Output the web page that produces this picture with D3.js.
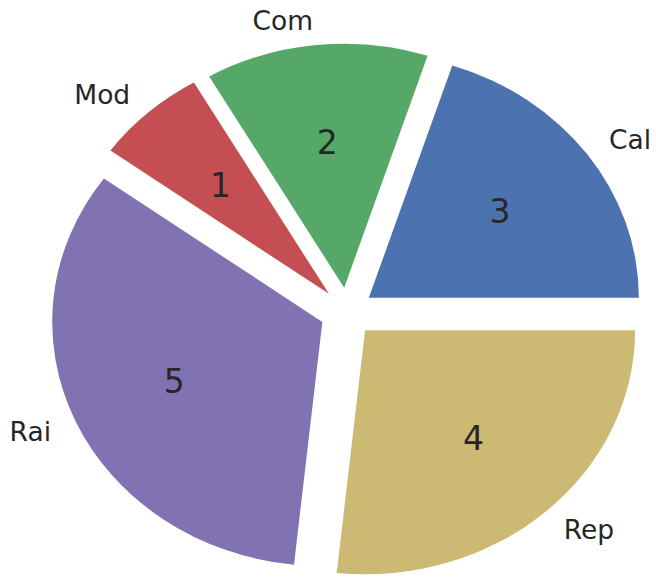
<!DOCTYPE html>
<html><head><meta charset="utf-8">
<script src="https://cdn.jsdelivr.net/npm/d3@7"></script>
<style>html,body{margin:0;padding:0;background:#fff;}svg{display:block;}</style>
</head><body>
<script>
const categories = ["Cal", "Com", "Mod", "Rai", "Rep"];
const values = [3, 2, 1, 5, 4];
const colors = ["#4C72B0", "#55A868", "#C44E52", "#8172B2", "#CCB974"];
const explode = [0.1, 0.1, 0.1, 0.1, 0.1];

const W = 656, H = 578;
const svg = d3.select("body").append("svg").attr("width", W).attr("height", H);

// data-space scales (unit pie, elliptical due to non-equal aspect)
const x = d3.scaleLinear().domain([-1, 1]).range([347 - 270, 347 + 270]);
const y = d3.scaleLinear().domain([-1, 1]).range([312 + 244, 312 - 244]);

const data = categories.map((c, i) => ({c, v: values[i], color: colors[i], ex: explode[i]}));
const pie = d3.pie().value(d => d.v).sort(null)
  .startAngle(Math.PI / 2).endAngle(Math.PI / 2 - 2 * Math.PI);
const arcs = pie(data);
const arc = d3.arc().innerRadius(0).outerRadius(1);

arcs.forEach(a => {
  const mid = Math.PI / 2 - (a.startAngle + a.endAngle) / 2; // math angle
  const dx = a.data.ex * Math.cos(mid), dy = a.data.ex * Math.sin(mid);
  const sx = (x(1) - x(-1)) / 2, sy = (y(-1) - y(1)) / 2;
  svg.append("path")
    .attr("d", arc(a))
    .attr("transform", `translate(${x(dx)},${y(dy)}) scale(${sx},${sy})`)
    .attr("fill", a.data.color);
  // label
  const lx = dx + 1.1 * Math.cos(mid), ly = dy + 1.1 * Math.sin(mid);
  svg.append("text")
    .attr("x", x(lx)).attr("y", y(ly))
    .attr("text-anchor", lx > 0 ? "start" : "end")
    .attr("dominant-baseline", "central")
    .attr("font-family", "DejaVu Sans").attr("font-size", 26.5)
    .attr("fill", "#262626")
    .text(a.data.c);
  const vx = dx + 0.6 * Math.cos(mid), vy = dy + 0.6 * Math.sin(mid);
  svg.append("text")
    .attr("x", x(vx)).attr("y", y(vy))
    .attr("text-anchor", "middle")
    .attr("dominant-baseline", "central")
    .attr("font-family", "DejaVu Sans").attr("font-size", 33)
    .attr("fill", "#262626")
    .text(a.data.v);
});
</script>
</body></html>
